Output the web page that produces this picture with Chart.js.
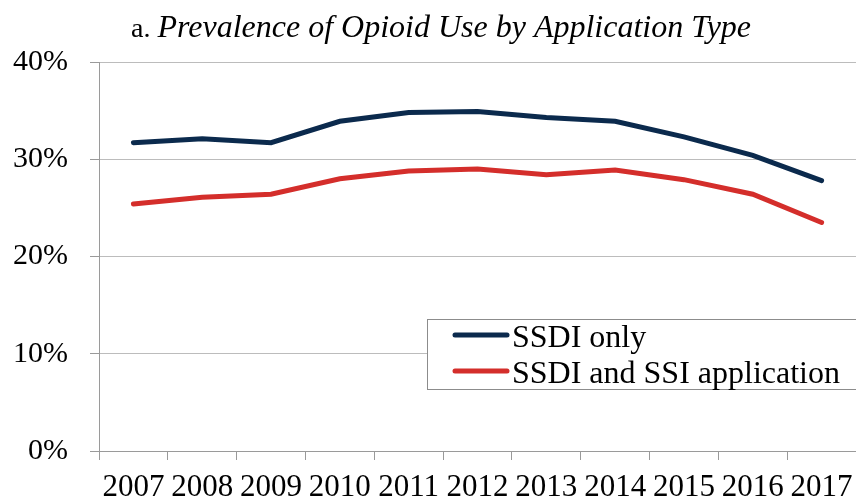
<!DOCTYPE html>
<html>
<head>
<meta charset="utf-8">
<script src="https://cdn.jsdelivr.net/npm/chart.js@4"></script>
<style>
  html, body { margin: 0; padding: 0; background: #fff; overflow: hidden; }
</style>
</head>
<body>
<canvas id="myChart" width="856" height="503"></canvas>
<script>
// Données
const years = ['2007', '2008', '2009', '2010', '2011', '2012', '2013', '2014', '2015', '2016', '2017'];
const ssdiOnly = [31.7, 32.1, 31.7, 33.9, 34.8, 34.9, 34.3, 33.9, 32.3, 30.4, 27.8];
const ssdiAndSsi = [25.4, 26.1, 26.4, 28.0, 28.8, 29.0, 28.4, 28.9, 27.9, 26.4, 23.5];
const yTicks = [0, 10, 20, 30, 40];

const serif = '"Liberation Serif", "Times New Roman", serif';

// Titre (partie normale + partie en italique)
const titlePlugin = {
    id: 'titre',
    afterDraw(chart) {
        const ctx = chart.ctx;
        ctx.save();
        ctx.fillStyle = '#000';
        ctx.textBaseline = 'alphabetic';
        ctx.font = '28px ' + serif;
        const a = 'a. ';
        ctx.fillText(a, 131, 37);
        const w = ctx.measureText(a).width;
        ctx.font = 'italic 32px ' + serif;
        ctx.fillText('Prevalence of Opioid Use by Application Type', 131 + w, 37);
        ctx.restore();
    }
};

// Légende encadrée dans la zone du graphique
const legendPlugin = {
    id: 'legendeBoite',
    afterDraw(chart) {
        const ctx = chart.ctx;
        ctx.save();
        ctx.fillStyle = '#fff';
        ctx.fillRect(427, 319, 440, 70);
        ctx.strokeStyle = '#8c8c8c';
        ctx.lineWidth = 1;
        ctx.strokeRect(427.5, 319.5, 440, 70);
        ctx.font = '32px ' + serif;
        ctx.textBaseline = 'alphabetic';
        chart.data.datasets.forEach((ds, i) => {
            const y = 335 + i * 36;
            ctx.strokeStyle = ds.borderColor;
            ctx.lineWidth = 5;
            ctx.lineCap = 'round';
            ctx.beginPath();
            ctx.moveTo(455, y);
            ctx.lineTo(507, y);
            ctx.stroke();
            ctx.fillStyle = '#000';
            ctx.fillText(ds.label, 512, y + 12);
        });
        ctx.restore();
    }
};

const ctx1 = document.getElementById('myChart').getContext('2d');
const myChart = new Chart(ctx1, {
    type: 'line',
    data: {
        labels: years,
        datasets: [{
            label: 'SSDI only',
            data: ssdiOnly,
            borderColor: '#0b2a4d',
            borderWidth: 5,
            borderCapStyle: 'round',
            pointRadius: 0,
            tension: 0
        }, {
            label: 'SSDI and SSI application',
            data: ssdiAndSsi,
            borderColor: '#d42e2b',
            borderWidth: 5,
            borderCapStyle: 'round',
            pointRadius: 0,
            tension: 0
        }]
    },
    options: {
        responsive: false,
        animation: false,
        devicePixelRatio: 1,
        layout: { padding: { top: 62, right: -4, left: 0, bottom: 0 } },
        plugins: {
            legend: { display: false },
            title: { display: false },
            tooltip: { enabled: false }
        },
        scales: {
            x: {
                offset: true,
                grid: {
                    display: true,
                    drawOnChartArea: false,
                    offset: true,
                    tickLength: 9,
                    color: '#9a9a9a'
                },
                border: { color: '#9a9a9a' },
                ticks: {
                    color: '#000',
                    font: { family: serif, size: 31 },
                    maxRotation: 0,
                    autoSkip: false,
                    padding: 9
                },
                afterFit(scale) {
                    scale.height = 52;
                    scale.paddingLeft = 0;
                    scale.paddingRight = 0;
                }
            },
            y: {
                min: 0,
                max: 40,
                afterBuildTicks(scale) {
                    scale.ticks = yTicks.map(v => ({ value: v }));
                },
                grid: {
                    color: '#bcbcbc',
                    tickLength: 9,
                    tickColor: '#9a9a9a'
                },
                border: { color: '#9a9a9a' },
                ticks: {
                    color: '#000',
                    font: { family: serif, size: 30 },
                    padding: 22,
                    callback: v => v + '%'
                },
                afterFit(scale) { scale.width = 99; }
            }
        }
    },
    plugins: [titlePlugin, legendPlugin]
});
</script>
</body>
</html>
